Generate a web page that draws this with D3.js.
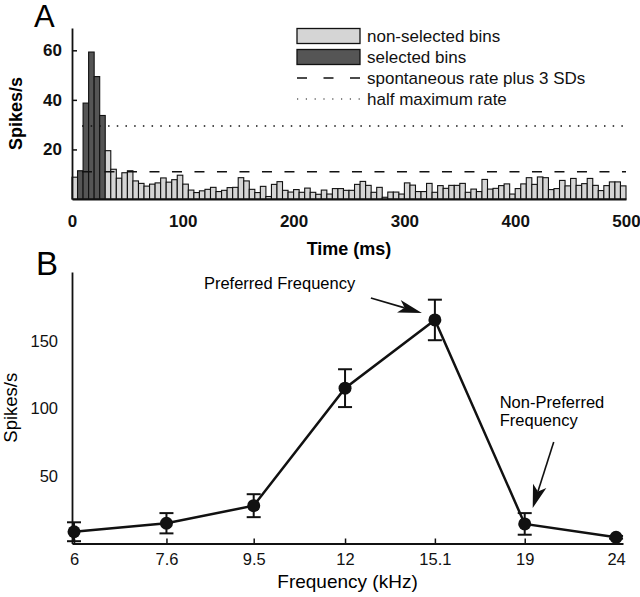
<!DOCTYPE html>
<html>
<head>
<meta charset="utf-8">
<title>PSTH and frequency tuning</title>
<script src="https://d3js.org/d3.v7.min.js"></script>
<style>
  body { margin: 0; background: #fff; }
  svg { font-family: "Liberation Sans", Arial, Helvetica, sans-serif; }
</style>
</head>
<body>
<div id="chart"></div>
<script>
// ---- panel A: PSTH, 5 ms bins (spikes/s per bin) ----
var binMs = 5;
var rates = [
  8.8, 11.4, 38.7, 59.3, 49.4, 33.7, 19.5, 12, 8.4, 10.6,
  11.4, 7.3, 6.3, 5.2, 6, 6.5, 8.5, 6.8, 7.8, 9.6,
  6, 3.6, 2.6, 3.3, 3.9, 4.7, 3, 3.5, 4.6, 4.7,
  8.6, 7.3, 3.9, 2.6, 5.1, 1, 5.9, 7, 3.5, 2.8,
  3.8, 2.7, 4.4, 2.7, 1.9, 3.6, 2, 4.2, 4.2, 3.5,
  3.5, 5.9, 7.1, 5.5, 2.7, 4.7, 0.7, 2.8, 2.8, 2,
  6.5, 5.6, 3, 3, 6.3, 2.7, 5.4, 4.3, 5.5, 5.5,
  6.3, 2.7, 4, 3, 7.9, 4, 4.3, 5.4, 6.1, 2,
  4.2, 6.1, 8.6, 5.9, 8.9, 8.6, 3.8, 4.2, 7.5, 5.3,
  8.3, 5.5, 6.2, 8.3, 5.5, 3.4, 5.4, 6.9, 6.9, 5.3
];
var selectedStarts = [5, 10, 15, 20, 25];   // ms
var spontPlus3SD = 11;
var halfMax = 29.5;
var refLineStart = 9;                        // ms
var timeTicks = [0, 100, 200, 300, 400, 500];
var rateTicksA = [20, 40, 60];
var legendLabels = ["non-selected bins", "selected bins", "spontaneous rate plus 3 SDs", "half maximum rate"];

// ---- panel B: tuning curve ----
var freqs = [6, 7.6, 9.5, 12, 15.1, 19, 24];   // kHz
var meanRate = [8.7, 15, 28, 115, 165.5, 14.5, 4.6];
var errRate = [7, 7.5, 8.5, 14, 15, 8, 1];
var rateTicksB = [50, 100, 150];

var light = "#d5d5d5", dark = "#555555", ink = "#111";

var svg = d3.select("#chart").append("svg")
  .attr("width", 640).attr("height", 597);

// ================= A =================
var xA = d3.scaleLinear().domain([0, 500]).range([72, 626]);
var yA = d3.scaleLinear().domain([0, 69]).range([199, 28]);

var bins = rates.map(function(r, i) {
  var t = i * binMs;
  return { t: t, rate: r, sel: selectedStarts.indexOf(t) >= 0 };
});

var gA = svg.append("g");

gA.selectAll("rect.bin")
  .data(bins)
  .enter().append("rect")
  .attr("class", "bin")
  .attr("x", function(d) { return xA(d.t); })
  .attr("y", function(d) { return yA(d.rate); })
  .attr("width", function(d) { return xA(d.t + binMs) - xA(d.t); })
  .attr("height", function(d) { return yA(0) - yA(d.rate); })
  .attr("fill", function(d) { return d.sel ? dark : light; })
  .attr("stroke", ink)
  .attr("stroke-width", 1.1);

gA.append("line")
  .attr("x1", xA(refLineStart)).attr("x2", xA(500))
  .attr("y1", yA(spontPlus3SD)).attr("y2", yA(spontPlus3SD))
  .attr("stroke", ink).attr("stroke-width", 1.7)
  .attr("stroke-dasharray", "10,12.5");

gA.append("line")
  .attr("x1", xA(refLineStart)).attr("x2", xA(500))
  .attr("y1", yA(halfMax)).attr("y2", yA(halfMax))
  .attr("stroke", ink).attr("stroke-width", 1.5)
  .attr("stroke-dasharray", "1.5,7.2");

var axAx = gA.append("g")
  .attr("transform", "translate(0," + yA(0) + ")")
  .call(d3.axisBottom(xA).tickValues(timeTicks).tickSize(0).tickPadding(16));
var axAy = gA.append("g")
  .attr("transform", "translate(" + xA(0) + ",0)")
  .call(d3.axisLeft(yA).tickValues(rateTicksA).tickSizeInner(-5).tickSizeOuter(0).tickPadding(10));

[axAx, axAy].forEach(function(a) {
  a.select(".domain").attr("stroke", ink).attr("stroke-width", 1.8);
  a.selectAll(".tick line").attr("stroke", ink).attr("stroke-width", 1.5);
  a.selectAll("text").attr("font-size", 17).attr("font-weight", "bold")
    .attr("font-family", "Liberation Sans, Arial, sans-serif").attr("fill", ink);
});

gA.append("text")
  .attr("x", (xA(0) + xA(500)) / 2).attr("y", 255)
  .attr("text-anchor", "middle").attr("font-size", 18).attr("font-weight", "bold")
  .text("Time (ms)");

gA.append("text")
  .attr("transform", "translate(22," + (yA(0) + yA(69)) / 2 + ") rotate(-90)")
  .attr("text-anchor", "middle").attr("font-size", 18).attr("font-weight", "bold")
  .text("Spikes/s");

gA.append("text")
  .attr("x", 34).attr("y", 27).attr("font-size", 31)
  .text("A");

// legend
var leg = gA.append("g").attr("transform", "translate(297,36)");
legendLabels.forEach(function(lbl, i) {
  var row = leg.append("g").attr("transform", "translate(0," + (i * 21) + ")");
  if (i < 2) {
    row.append("rect").attr("x", 0).attr("y", -7.5).attr("width", 63).attr("height", 15)
      .attr("fill", i === 0 ? light : dark).attr("stroke", ink).attr("stroke-width", 1.3);
  } else {
    row.append("line").attr("x1", 0).attr("x2", 63).attr("y1", 0).attr("y2", 0)
      .attr("stroke", ink)
      .attr("stroke-width", i === 2 ? 1.5 : 1.2)
      .attr("stroke-dasharray", i === 2 ? "10,16.5" : "1.2,7.6");
  }
  row.append("text").attr("x", 70).attr("y", 6)
    .attr("font-size", 17).attr("fill", ink).text(lbl);
});

// ================= B =================
var xB = d3.scaleLog().domain([5.969, 24.43]).range([72, 623]);
var yB = d3.scaleLinear().domain([0, 201]).range([543.5, 272]);

var pts = freqs.map(function(f, i) {
  return { f: f, m: meanRate[i], e: errRate[i] };
});

var gB = svg.append("g");

var axBx = gB.append("g")
  .attr("transform", "translate(0," + yB(0) + ")")
  .call(d3.axisBottom(xB).tickValues(freqs).tickFormat(function(d) { return String(d); })
    .tickSizeInner(-5).tickSizeOuter(0).tickPadding(10));
var axBy = gB.append("g")
  .attr("transform", "translate(" + xB.range()[0] + ",0)")
  .call(d3.axisLeft(yB).tickValues(rateTicksB).tickSize(0).tickPadding(14));

[axBx, axBy].forEach(function(a) {
  a.select(".domain").attr("stroke", ink).attr("stroke-width", 1.8);
  a.selectAll(".tick line").attr("stroke", ink).attr("stroke-width", 1.5);
  a.selectAll("text").attr("font-size", 16.5)
    .attr("font-family", "Liberation Sans, Arial, sans-serif").attr("fill", ink);
});

gB.append("text")
  .attr("x", (xB.range()[0] + xB.range()[1]) / 2).attr("y", 588)
  .attr("text-anchor", "middle").attr("font-size", 19)
  .text("Frequency (kHz)");

gB.append("text")
  .attr("transform", "translate(17," + (yB(0) + yB(201)) / 2 + ") rotate(-90)")
  .attr("text-anchor", "middle").attr("font-size", 18.5)
  .text("Spikes/s");

gB.append("text")
  .attr("x", 36).attr("y", 275).attr("font-size", 33)
  .text("B");

// error bars
var capW = 7;
var eb = gB.selectAll("g.err").data(pts).enter().append("g").attr("class", "err")
  .attr("stroke", ink).attr("stroke-width", 2);
eb.append("line")
  .attr("x1", function(d) { return xB(d.f); }).attr("x2", function(d) { return xB(d.f); })
  .attr("y1", function(d) { return yB(d.m - d.e); }).attr("y2", function(d) { return yB(d.m + d.e); });
eb.append("line")
  .attr("x1", function(d) { return xB(d.f) - capW; }).attr("x2", function(d) { return xB(d.f) + capW; })
  .attr("y1", function(d) { return yB(d.m + d.e); }).attr("y2", function(d) { return yB(d.m + d.e); });
eb.append("line")
  .attr("x1", function(d) { return xB(d.f) - capW; }).attr("x2", function(d) { return xB(d.f) + capW; })
  .attr("y1", function(d) { return yB(d.m - d.e); }).attr("y2", function(d) { return yB(d.m - d.e); });

var line = d3.line()
  .x(function(d) { return xB(d.f); })
  .y(function(d) { return yB(d.m); });

gB.append("path").datum(pts)
  .attr("d", line).attr("fill", "none")
  .attr("stroke", ink).attr("stroke-width", 2.5);

gB.selectAll("circle.pt").data(pts).enter().append("circle")
  .attr("class", "pt")
  .attr("cx", function(d) { return xB(d.f); })
  .attr("cy", function(d) { return yB(d.m); })
  .attr("r", 6.5).attr("fill", ink);

// annotations: arrows placed relative to the data point they point at
function arrow(from, to, headLen, headW) {
  var dx = to[0] - from[0], dy = to[1] - from[1];
  var len = Math.sqrt(dx * dx + dy * dy);
  var ux = dx / len, uy = dy / len, px = -uy, py = ux;
  var bx = to[0] - ux * headLen, by = to[1] - uy * headLen;
  var nx = to[0] - ux * headLen * 0.75, ny = to[1] - uy * headLen * 0.75;
  gB.append("line")
    .attr("x1", from[0]).attr("y1", from[1]).attr("x2", nx).attr("y2", ny)
    .attr("stroke", ink).attr("stroke-width", 1.6);
  gB.append("path")
    .attr("d", "M" + to[0] + "," + to[1] +
      "L" + (bx + px * headW / 2) + "," + (by + py * headW / 2) +
      "L" + nx + "," + ny +
      "L" + (bx - px * headW / 2) + "," + (by - py * headW / 2) + "Z")
    .attr("fill", ink);
}

var pref = pts[4], nonPref = pts[5];
var px0 = xB(pref.f), py0 = yB(pref.m);
arrow([px0 - 64, py0 - 22], [px0 - 13, py0 - 7], 24, 13);
gB.append("text").attr("x", px0 - 231).attr("y", py0 - 31)
  .attr("font-size", 16.5).text("Preferred Frequency");

var nx0 = xB(nonPref.f), ny0 = yB(nonPref.m);
arrow([nx0 + 29, ny0 - 82], [nx0 + 8, ny0 - 16], 23, 14);
var np = gB.append("text").attr("x", nx0 - 25).attr("y", ny0 - 116).attr("font-size", 16.5);
np.append("tspan").attr("x", nx0 - 25).text("Non-Preferred");
np.append("tspan").attr("x", nx0 - 25).attr("dy", 18).text("Frequency");
</script>
</body>
</html>
